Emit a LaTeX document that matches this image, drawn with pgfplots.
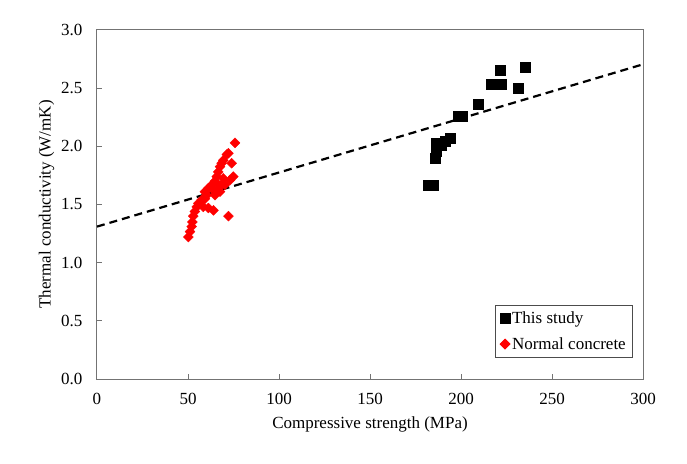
\documentclass[border=0pt]{standalone}
\usepackage{fontspec}
\setmainfont{Liberation Serif}
\usepackage{pgfplots}
\pgfplotsset{compat=1.18}
\begin{document}
\begin{tikzpicture}
\begin{axis}[
  scale only axis,
  width=546pt, height=349pt,
  xmin=0, xmax=300, ymin=0, ymax=3,
  xtick={0,50,...,300},
  ytick={0,0.5,...,3},
  yticklabel style={/pgf/number format/fixed,/pgf/number format/fixed zerofill,/pgf/number format/precision=1},
  /pgf/number format/assume math mode=true,
  tick align=inside,
  major tick length=5pt,
  xtick pos=bottom, ytick pos=left,
  axis line style={draw=gray!90!black, line width=1pt},
  every tick/.style={draw=gray!90!black, line width=1pt},
  tick label style={font=\fontsize{17}{20}\selectfont, black},
  xticklabel style={yshift=-11pt},
  yticklabel style={xshift=-11pt},
  label style={font=\fontsize{17}{20}\selectfont},
  xlabel={Compressive strength (MPa)},
  ylabel={Thermal conductivity (W/mK)},
  xlabel style={yshift=-5pt},
  ylabel style={yshift=0pt},
  legend style={at={(0.982,0.06)}, anchor=south east, draw=gray!60!black, line width=0.8pt,
    font=\fontsize{17}{20}\selectfont, row sep=8pt, inner xsep=5pt, inner ysep=5pt},
  legend cell align=left,
  legend image code/.code={\draw[#1] (0.17cm,0cm) -- plot coordinates {(0.17cm,0cm)};},
]
\addplot[only marks, mark=square*, mark size=5pt, black] coordinates {
(182,1.67) (184.5,1.67) (185.7,1.90) (186.6,1.955) (186.6,2.026) (189.3,2.01)
(191.2,2.04) (193.9,2.07) (198.5,2.255) (200.4,2.255) (209.5,2.36)
(216.8,2.53) (221.9,2.53) (221.4,2.657) (231.2,2.50) (235.2,2.677)
};
\addlegendentry{This study}
\addplot[only marks, mark=square*, mark size=3.5pt, red, mark options={fill=red, draw=red, rotate=45}] coordinates {
(50.2,1.22) (51.1,1.267) (52,1.31) (52.4,1.35) (52.9,1.40) (53.8,1.44) (54.8,1.48)
(55.7,1.51) (57.5,1.54) (59.3,1.55) (58.4,1.48) (64,1.45) (61.2,1.47) (72.2,1.40)
(59.3,1.61) (61.2,1.64) (63,1.64) (65.8,1.625) (64.8,1.58) (60.3,1.58) (67.6,1.61)
(66.6,1.67) (64.8,1.70) (65.8,1.74) (66.6,1.78) (67.6,1.825) (68.5,1.855) (69.4,1.88)
(71.3,1.93) (72.2,1.94) (74,1.855) (74.9,1.74) (73.1,1.71) (69.4,1.725) (75.8,2.03)
(70.3,1.67) (62.5,1.66) (68.5,1.67)
};
\addlegendentry{Normal concrete}
\addplot[black, line width=2.2pt, dash pattern=on 8pt off 5pt, forget plot] coordinates {(0,1.31) (300,2.705)};
\end{axis}
\path (current axis.south west) ++(-97pt,-84pt) coordinate (bbl);
\path (current axis.north east) ++(44pt,30pt) coordinate (btr);
\pgfresetboundingbox
\useasboundingbox (bbl) rectangle (btr);
\end{tikzpicture}
\end{document}
